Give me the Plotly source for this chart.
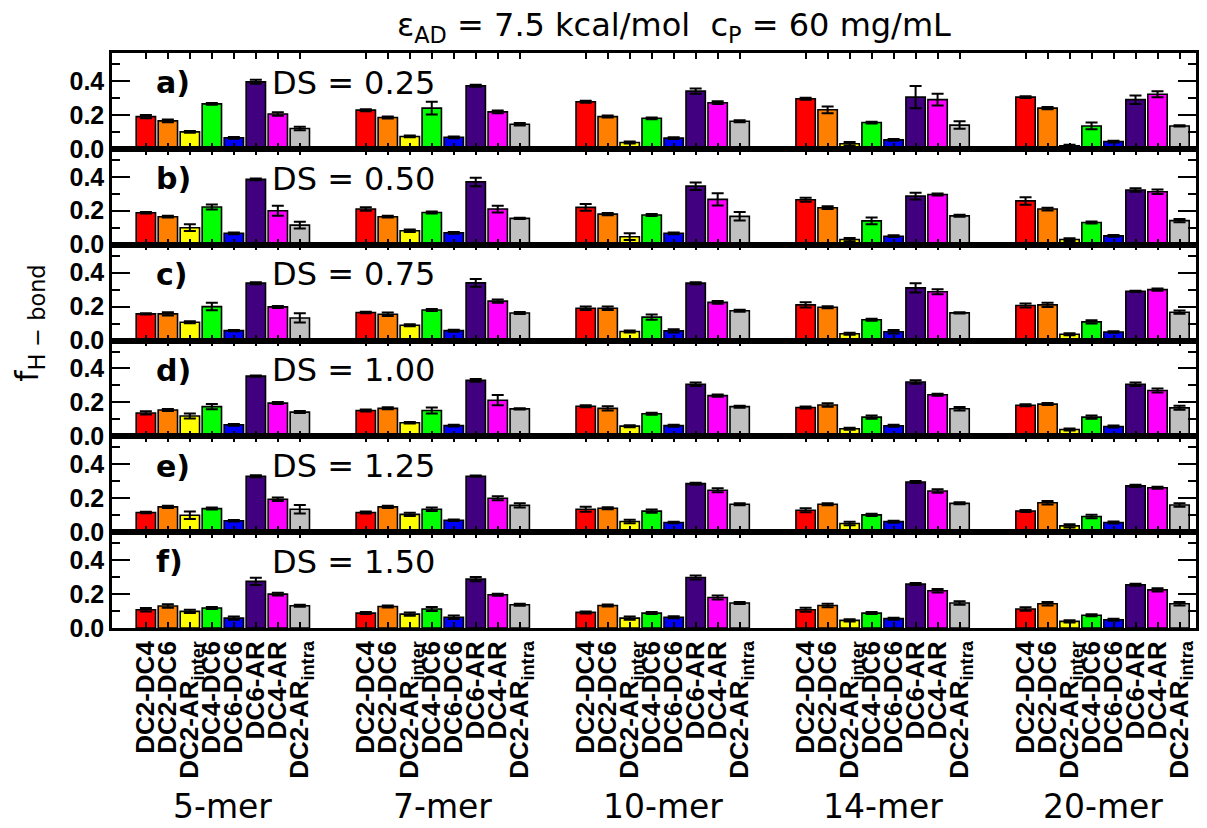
import plotly.graph_objects as go
from plotly.subplots import make_subplots

# Pair types (bar order inside every chain-length group) and their colours
pairs = ["DC2-DC4", "DC2-DC6", "DC2-AR<sub>inter</sub>", "DC4-DC6",
         "DC6-DC6", "DC6-AR", "DC4-AR", "DC2-AR<sub>intra</sub>"]
pair_colors = ["#ff0000", "#ff8000", "#ffff00", "#00ff00",
               "#0000ff", "#40007f", "#ff00ff", "#c0c0c0"]
chains = ["5-mer", "7-mer", "10-mer", "14-mer", "20-mer"]
panel_tags = ["a)", "b)", "c)", "d)", "e)", "f)"]
ds_labels = ["0.25", "0.50", "0.75", "1.00", "1.25", "1.50"]

# f_H-bond per chain length (rows) and pair type (columns), with error bars
fh_a = [[0.190, 0.165, 0.100, 0.265, 0.065, 0.395, 0.205, 0.120],
        [0.228, 0.185, 0.073, 0.240, 0.068, 0.372, 0.218, 0.145],
        [0.278, 0.190, 0.037, 0.180, 0.063, 0.340, 0.272, 0.163],
        [0.295, 0.230, 0.030, 0.155, 0.053, 0.305, 0.290, 0.140],
        [0.305, 0.240, 0.018, 0.135, 0.043, 0.290, 0.322, 0.135]]
err_a = [[0.010, 0.008, 0.005, 0.005, 0.005, 0.012, 0.010, 0.010],
         [0.006, 0.006, 0.005, 0.037, 0.005, 0.006, 0.008, 0.008],
         [0.006, 0.006, 0.006, 0.005, 0.005, 0.015, 0.008, 0.006],
         [0.006, 0.020, 0.010, 0.005, 0.005, 0.065, 0.035, 0.022],
         [0.005, 0.006, 0.006, 0.020, 0.005, 0.025, 0.018, 0.004]]

fh_b = [[0.188, 0.165, 0.100, 0.222, 0.067, 0.385, 0.200, 0.115],
        [0.210, 0.165, 0.082, 0.190, 0.070, 0.370, 0.210, 0.155],
        [0.220, 0.180, 0.047, 0.175, 0.067, 0.345, 0.267, 0.167],
        [0.265, 0.218, 0.030, 0.140, 0.050, 0.286, 0.296, 0.170],
        [0.258, 0.210, 0.030, 0.131, 0.052, 0.322, 0.312, 0.142]]
err_b = [[0.005, 0.005, 0.020, 0.015, 0.005, 0.005, 0.030, 0.020],
         [0.010, 0.005, 0.008, 0.006, 0.005, 0.025, 0.020, 0.004],
         [0.020, 0.006, 0.020, 0.006, 0.005, 0.022, 0.036, 0.025],
         [0.012, 0.008, 0.010, 0.020, 0.005, 0.020, 0.006, 0.006],
         [0.022, 0.008, 0.008, 0.006, 0.005, 0.010, 0.013, 0.010]]

fh_c = [[0.157, 0.157, 0.108, 0.200, 0.058, 0.338, 0.198, 0.133],
        [0.165, 0.155, 0.090, 0.180, 0.058, 0.340, 0.232, 0.162],
        [0.190, 0.190, 0.053, 0.138, 0.057, 0.338, 0.225, 0.175],
        [0.210, 0.196, 0.040, 0.122, 0.052, 0.310, 0.287, 0.163],
        [0.206, 0.210, 0.037, 0.110, 0.050, 0.290, 0.300, 0.167]]
err_c = [[0.004, 0.010, 0.006, 0.022, 0.004, 0.006, 0.006, 0.027],
         [0.004, 0.010, 0.006, 0.006, 0.006, 0.023, 0.010, 0.006],
         [0.010, 0.010, 0.006, 0.015, 0.010, 0.006, 0.008, 0.006],
         [0.015, 0.006, 0.006, 0.006, 0.010, 0.027, 0.015, 0.004],
         [0.012, 0.012, 0.006, 0.010, 0.005, 0.004, 0.006, 0.010]]

fh_d = [[0.138, 0.155, 0.120, 0.175, 0.068, 0.355, 0.196, 0.143],
        [0.152, 0.165, 0.080, 0.152, 0.063, 0.330, 0.213, 0.162],
        [0.177, 0.165, 0.060, 0.133, 0.063, 0.307, 0.240, 0.175],
        [0.170, 0.185, 0.045, 0.113, 0.062, 0.320, 0.245, 0.163],
        [0.183, 0.190, 0.040, 0.113, 0.058, 0.307, 0.270, 0.168]]
err_d = [[0.010, 0.006, 0.015, 0.015, 0.005, 0.004, 0.006, 0.006],
         [0.006, 0.006, 0.005, 0.018, 0.005, 0.008, 0.030, 0.004],
         [0.006, 0.012, 0.006, 0.006, 0.006, 0.010, 0.006, 0.006],
         [0.006, 0.010, 0.006, 0.010, 0.006, 0.010, 0.006, 0.010],
         [0.006, 0.006, 0.006, 0.010, 0.006, 0.010, 0.012, 0.012]]

fh_e = [[0.116, 0.149, 0.100, 0.139, 0.067, 0.330, 0.194, 0.135],
        [0.116, 0.149, 0.105, 0.135, 0.070, 0.330, 0.200, 0.158],
        [0.135, 0.141, 0.063, 0.124, 0.057, 0.286, 0.247, 0.165],
        [0.129, 0.165, 0.051, 0.102, 0.062, 0.296, 0.243, 0.170],
        [0.125, 0.173, 0.037, 0.092, 0.057, 0.273, 0.262, 0.160]]
err_e = [[0.004, 0.006, 0.022, 0.006, 0.004, 0.006, 0.010, 0.025],
         [0.006, 0.006, 0.010, 0.010, 0.004, 0.004, 0.012, 0.012],
         [0.015, 0.006, 0.010, 0.010, 0.004, 0.006, 0.012, 0.006],
         [0.012, 0.006, 0.010, 0.006, 0.006, 0.006, 0.010, 0.006],
         [0.006, 0.010, 0.010, 0.010, 0.006, 0.006, 0.006, 0.010]]

fh_f = [[0.108, 0.130, 0.098, 0.118, 0.058, 0.275, 0.200, 0.131],
        [0.088, 0.127, 0.082, 0.112, 0.063, 0.288, 0.196, 0.137],
        [0.092, 0.133, 0.058, 0.088, 0.063, 0.298, 0.180, 0.147],
        [0.108, 0.133, 0.045, 0.088, 0.055, 0.259, 0.220, 0.147],
        [0.112, 0.143, 0.039, 0.075, 0.049, 0.255, 0.225, 0.143]]
err_f = [[0.010, 0.010, 0.010, 0.006, 0.010, 0.022, 0.008, 0.006],
         [0.006, 0.006, 0.010, 0.012, 0.010, 0.012, 0.006, 0.006],
         [0.006, 0.006, 0.010, 0.006, 0.006, 0.012, 0.012, 0.006],
         [0.012, 0.010, 0.006, 0.006, 0.006, 0.006, 0.010, 0.010],
         [0.010, 0.010, 0.006, 0.006, 0.006, 0.006, 0.010, 0.010]]

panels = [(fh_a, err_a), (fh_b, err_b), (fh_c, err_c),
          (fh_d, err_d), (fh_e, err_e), (fh_f, err_f)]

GROUP_STEP = 10          # 8 bars + 2 empty slots between chain groups
FONT = "Liberation Sans"
WIDE = "DejaVu Sans"
n_rows = len(panels)

fig = make_subplots(rows=n_rows, cols=1, shared_xaxes=True, vertical_spacing=0)

bar_pos = [g * GROUP_STEP + i for g in range(len(chains)) for i in range(len(pairs))]
bar_text = [p for _ in chains for p in pairs]

for r, (vals, errs) in enumerate(panels, start=1):
    for i, color in enumerate(pair_colors):
        xs = [g * GROUP_STEP + i for g in range(len(chains))]
        ys = [vals[g][i] for g in range(len(chains))]
        es = [errs[g][i] for g in range(len(chains))]
        fig.add_trace(go.Bar(
            x=xs, y=ys, width=0.88,
            marker=dict(color=color, line=dict(color="black", width=1.6)),
            error_y=dict(type="data", array=es, color="black",
                         thickness=2, width=6),
            showlegend=False, hoverinfo="skip"),
            row=r, col=1)

    fig.update_yaxes(
        range=[0, 0.565], tickvals=[0, 0.2, 0.4], ticktext=["0.0", "0.2", "0.4"],
        ticks="inside", ticklen=18, tickwidth=2, tickcolor="black",
        minor=dict(tickvals=[0.1, 0.3, 0.5], ticks="inside", ticklen=8,
                   tickwidth=2, tickcolor="black"),
        showline=True, linewidth=2.5, linecolor="black", mirror="ticks",
        showgrid=False, zeroline=False,
        tickfont=dict(family=FONT, size=25, color="black", weight="bold"),
        row=r, col=1)

    fig.update_xaxes(
        range=[-1.54, 47.75], tickmode="array", tickvals=bar_pos, ticktext=bar_text,
        ticks="inside", ticklen=6, tickwidth=2, tickcolor="black",
        showline=True, linewidth=2.5, linecolor="black", mirror="ticks",
        showgrid=False, zeroline=False,
        showticklabels=(r == n_rows), tickangle=-90,
        tickfont=dict(family=FONT, size=26, color="black", weight="bold"),
        row=r, col=1)

annotations = []
for r in range(1, n_rows + 1):
    suffix = "" if r == 1 else str(r)
    annotations.append(dict(
        text=panel_tags[r - 1], xref=f"x{suffix} domain", yref=f"y{suffix} domain",
        x=0.039, y=0.69, xanchor="left", yanchor="middle", showarrow=False,
        font=dict(family=WIDE, size=30, color="black", weight="bold")))
    annotations.append(dict(
        text=f"DS = {ds_labels[r - 1]}", xref=f"x{suffix} domain",
        yref=f"y{suffix} domain", x=0.146, y=0.69, xanchor="left",
        yanchor="middle", showarrow=False,
        font=dict(family=WIDE, size=32, color="black")))

for g, name in enumerate(chains):
    annotations.append(dict(
        text=name, xref=f"x{n_rows}", yref="paper",
        x=g * GROUP_STEP + (len(pairs) - 1) / 2, y=-0.31,
        xanchor="center", yanchor="middle", showarrow=False,
        font=dict(family=WIDE, size=33, color="black")))

annotations.append(dict(
    text="ε<sub>AD</sub> = 7.5 kcal/mol\u00a0\u00a0c<sub>P</sub> = 60 mg/mL",
    xref="paper", yref="paper", x=0.518, y=1.046,
    xanchor="center", yanchor="middle", showarrow=False,
    font=dict(family=WIDE, size=32, color="black")))

annotations.append(dict(
    text="f<sub>H − bond</sub>", xref="paper", yref="paper",
    x=-0.076, y=0.53, xanchor="center", yanchor="middle", textangle=-90,
    showarrow=False, font=dict(family=WIDE, size=32, color="black")))

fig.update_layout(
    width=1207, height=828,
    margin=dict(l=112, r=8, t=53, b=200),
    barmode="overlay",
    plot_bgcolor="white", paper_bgcolor="white",
    font=dict(family=FONT, color="black"),
    annotations=annotations,
)

fig.write_html("out.html")
